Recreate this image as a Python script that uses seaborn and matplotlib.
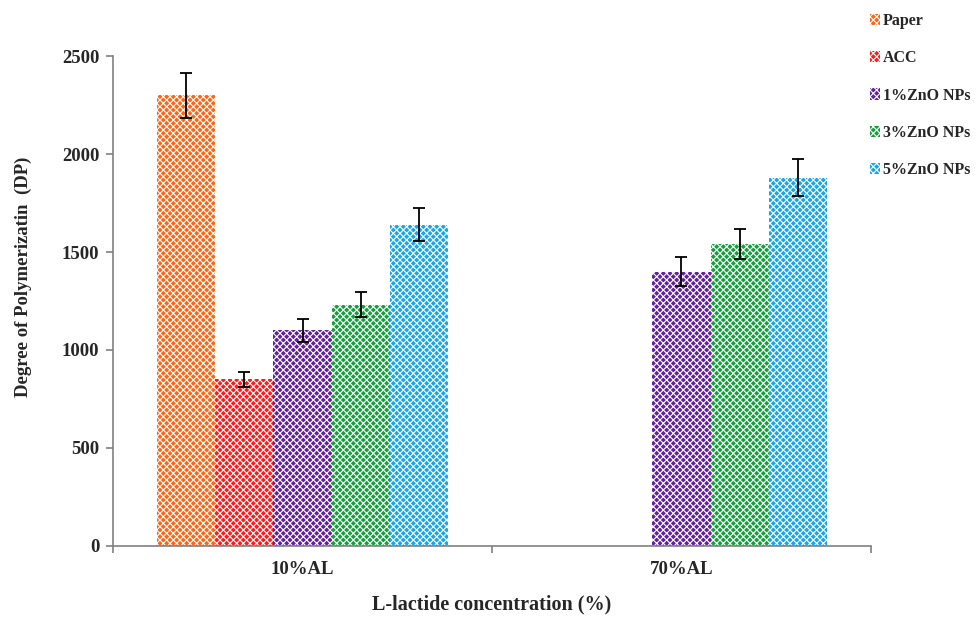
import pandas as pd
import numpy as np
import matplotlib.pyplot as plt
import seaborn as sns

# datos
concentrations = ['10%AL', '70%AL']
samples = ['Paper', 'ACC', '1%ZnO NPs', '3%ZnO NPs', '5%ZnO NPs']
dp_10 = [2300, 850, 1100, 1230, 1640]
dp_70 = [0, 0, 1400, 1540, 1880]
err_10 = [115, 40, 58, 64, 85]
err_70 = [0, 0, 74, 76, 94]
colors = ['#FF6414', '#FF1A1A', '#62209E', '#13A03A', '#16A6EC']

sns.set_style('white')
plt.rcParams.update({
    'font.family': ['Liberation Serif', 'DejaVu Serif'],
    'font.weight': 'bold',
    'hatch.linewidth': 0.8,
})

rows = []
for s, a, b, ea, eb in zip(samples, dp_10, dp_70, err_10, err_70):
    rows.append({'conc': concentrations[0], 'sample': s, 'dp': a, 'err': ea})
    rows.append({'conc': concentrations[1], 'sample': s, 'dp': b, 'err': eb})
df = pd.DataFrame(rows)

fig = plt.figure(figsize=(9.76, 6.17), dpi=100)
ax = fig.add_axes([0.1158, 0.1151, 0.7766, 0.7941])

sns.barplot(data=df, x='conc', y='dp', hue='sample', order=concentrations, hue_order=samples,
            palette=colors, width=0.768, gap=0, errorbar=None, legend=False, ax=ax)

hatch = 'xxxxx'
for cont, s, col in zip(ax.containers, samples, colors):
    sub = df[df['sample'] == s].set_index('conc').loc[concentrations]
    for bar, v, e in zip(cont, sub['dp'], sub['err']):
        bar.set_facecolor(col)
        bar.set_edgecolor('white')
        bar.set_hatch(hatch)
        bar.set_linewidth(0)
        if e > 0:
            ax.errorbar(bar.get_x() + bar.get_width() / 2, v, yerr=e, fmt='none',
                        ecolor='black', elinewidth=1.3, capsize=4.5, capthick=1.3, zorder=5)

ax.set_ylim(0, 2500)
ax.set_xlim(-0.5, 1.5)
ax.set_yticks(range(0, 2501, 500))
ax.set_xticks([-0.5, 0.5, 1.5], minor=False)
ax.set_xticks([0, 1], minor=True)
ax.set_xticklabels(['', '', ''])
ax.set_xticklabels(concentrations, minor=True)
ax.tick_params(axis='x', which='minor', bottom=False, length=0, pad=11, labelsize=13.5)
ax.tick_params(axis='x', which='major', bottom=True, length=5, width=1.2, color='#808080', direction='out')
ax.tick_params(axis='y', left=True, length=5, width=1.2, color='#808080', direction='out', labelsize=13.5, pad=5)
for lbl in ax.get_yticklabels() + ax.get_xticklabels(minor=True):
    lbl.set_fontweight('bold')

ax.set_xlabel('L-lactide concentration (%)', fontsize=14.5, fontweight='bold', labelpad=12)
ax.set_ylabel('Degree of Polymerizatin  (DP)', fontsize=13.5, fontweight='semibold')
ax.yaxis.set_label_coords(-0.107, 0.55)

for sp in ['top', 'right']:
    ax.spines[sp].set_visible(False)
for sp in ['left', 'bottom']:
    ax.spines[sp].set_color('#808080')
    ax.spines[sp].set_linewidth(1.2)

handles = [plt.Rectangle((0, 0), 1, 1, facecolor=c, edgecolor='white', hatch=hatch, linewidth=0)
           for c in colors]
leg = fig.legend(handles, samples, loc='upper left', bbox_to_anchor=(0.877, 1.002),
                 frameon=False, handlelength=0.6, handleheight=0.7, handletextpad=0.2,
                 labelspacing=1.33, prop={'family': 'Liberation Serif', 'weight': 'bold', 'size': 11.5})

plt.savefig('out.png', dpi=100)
